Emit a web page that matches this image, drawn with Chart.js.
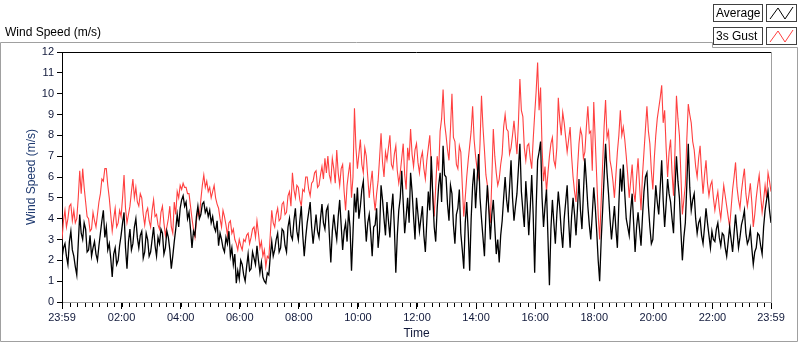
<!DOCTYPE html>
<html><head><meta charset="utf-8">
<script src="https://cdn.jsdelivr.net/npm/chart.js@4.4.1/dist/chart.umd.min.js"></script>
<style>html,body{margin:0;padding:0;background:#fff;}#wrap{position:relative;width:800px;height:342px;}</style>
</head><body><div id="wrap"><canvas id="c" width="800" height="342"></canvas></div>
<script>
const chartTitle = "Wind Speed (m/s)";
const xTitle = "Time";
const yTitle = "Wind Speed (m/s)";
const seriesNames = ["Average", "3s Gust"];
const sampleStepMinutes = 3;
const tickMinutes = [0, 121, 241, 361, 481, 601, 721, 841, 961, 1081, 1201, 1321, 1440];
const tickLabels = ["23:59","02:00","04:00","06:00","08:00","10:00","12:00","14:00","16:00","18:00","20:00","22:00","23:59"];

// one value every 3 minutes, 20 per hour
const average = [
  2.1, 2.6, 2.8, 2.2, 1.8, 2.9, 3.4, 2.5, 2.2, 1.7, 1.3, 2.8, 4.2, 3.3, 3.0, 3.8, 3.5, 2.4, 2.5, 3.2,
  2.2, 2.6, 2.9, 2.3, 2.0, 2.7, 3.3, 3.9, 4.4, 3.1, 3.6, 2.5, 2.8, 2.1, 1.2, 2.3, 2.6, 1.8, 2.0, 2.7,
  3.2, 3.8, 4.3, 2.6, 1.6, 2.9, 3.5, 2.5, 2.8, 3.6, 4.0, 3.1, 2.6, 3.2, 3.4, 2.1, 2.4, 3.3, 3.0, 2.2,
  2.4, 3.0, 3.6, 2.7, 2.2, 3.1, 2.8, 3.5, 3.3, 2.3, 2.6, 3.4, 3.1, 2.5, 1.6, 2.2, 2.9, 3.5, 4.2, 3.6,
  4.5, 4.9, 5.1, 4.6, 4.8, 4.0, 4.3, 3.5, 2.6, 3.4, 3.2, 4.1, 4.6, 4.0, 4.2, 4.7, 4.8, 4.3, 4.5, 4.1,
  4.4, 3.8, 4.1, 3.6, 3.4, 3.9, 2.7, 3.3, 3.0, 2.6, 2.4, 3.1, 2.8, 3.4, 2.2, 2.6, 1.8, 2.3, 0.9, 1.5,
  1.1, 2.0, 1.8, 1.3, 1.0, 1.7, 2.3, 1.5, 1.6, 2.4, 2.1, 1.8, 2.7, 2.0, 1.4, 1.9, 1.2, 1.0, 0.9, 1.4,
  1.3, 2.2, 2.9, 2.2, 2.5, 3.0, 3.3, 2.4, 2.6, 3.5, 3.4, 2.7, 2.4, 3.6, 4.0, 3.2, 3.0, 3.9, 4.5, 3.4,
  3.0, 3.9, 4.6, 3.2, 2.2, 3.1, 3.8, 4.3, 4.8, 3.6, 2.8, 3.5, 4.2, 3.4, 3.1, 4.0, 4.7, 3.8, 3.5, 4.4,
  4.6, 3.2, 1.9, 3.4, 4.2, 3.5, 3.0, 4.1, 4.9, 3.7, 2.5, 3.4, 3.8, 2.9, 4.4, 3.6, 1.5, 3.3, 5.2, 4.3,
  5.5, 4.0, 4.6, 5.4, 5.8, 4.1, 2.9, 3.8, 4.2, 3.3, 2.2, 3.6, 3.7, 4.5, 2.6, 3.4, 5.6, 4.9, 4.0, 3.2,
  4.8, 3.9, 3.1, 4.4, 5.2, 3.6, 1.4, 3.2, 4.4, 5.0, 6.3, 4.8, 3.3, 4.1, 5.0, 3.8, 6.2, 5.3, 4.1, 3.0,
  5.0, 4.2, 3.4, 4.0, 4.6, 3.2, 2.4, 3.9, 5.3, 4.4, 7.0, 5.1, 3.6, 2.9, 4.5, 5.6, 6.2, 4.8, 7.5, 6.1,
  6.0, 4.7, 3.9, 5.6, 5.2, 3.7, 2.8, 4.2, 4.5, 5.4, 3.3, 2.5, 1.6, 3.8, 4.8, 3.4, 1.5, 4.0, 5.6, 6.4,
  4.5, 5.8, 7.1, 5.0, 4.0, 3.1, 2.2, 4.3, 5.6, 4.4, 3.0, 4.2, 4.9, 3.6, 2.3, 3.0, 1.9, 3.2, 3.9, 5.0,
  6.0, 4.9, 4.3, 5.5, 6.8, 5.0, 3.9, 4.6, 5.2, 6.4, 7.6, 5.3, 4.4, 3.6, 5.8, 4.7, 3.2, 4.5, 6.1, 4.2,
  1.4, 4.5, 6.8, 7.2, 7.7, 5.0, 3.6, 4.6, 5.4, 3.1, 0.8, 3.5, 4.9, 3.8, 2.8, 4.2, 5.3, 4.5, 3.4, 2.6,
  4.0, 4.8, 5.6, 3.9, 2.6, 4.1, 5.0, 4.2, 3.2, 4.5, 5.9, 4.4, 3.5, 5.2, 6.9, 5.8, 4.6, 3.7, 3.0, 4.2,
  5.5, 4.6, 3.4, 2.0, 1.0, 2.9, 4.4, 6.0, 7.6, 6.2, 5.2, 4.0, 3.0, 3.8, 4.6, 3.5, 2.6, 4.7, 6.4, 5.3,
  6.6, 5.2, 4.0, 3.6, 3.2, 4.4, 5.2, 3.8, 2.4, 3.6, 4.3, 3.5, 2.7, 4.1, 5.3, 6.0, 6.2, 4.6, 3.6, 2.8,
  3.0, 4.3, 5.6, 4.8, 4.2, 5.5, 6.8, 4.9, 3.6, 4.7, 5.9, 5.2, 4.8, 4.0, 3.3, 5.4, 7.0, 5.8, 5.0, 3.4,
  2.0, 3.1, 3.8, 5.6, 7.6, 5.5, 4.4, 4.9, 5.2, 4.0, 3.3, 3.8, 4.0, 3.2, 2.8, 3.6, 4.5, 3.8, 3.2, 2.6,
  3.4, 3.0, 2.9, 3.5, 3.8, 3.1, 2.7, 3.3, 3.2, 2.6, 2.2, 2.9, 3.6, 3.0, 2.4, 3.3, 4.2, 3.4, 2.6, 3.1,
  3.7, 4.0, 4.4, 3.3, 2.8, 3.0, 3.5, 2.6, 1.8, 2.4, 2.6, 3.3, 3.2, 2.7, 2.3, 3.6, 4.4, 4.9, 5.3, 4.4,
  3.8
];
const gust = [
  3.0, 3.9, 4.4, 3.6, 4.0, 4.6, 4.7, 3.9, 4.4, 3.8, 4.0, 5.0, 6.3, 5.2, 6.4, 5.5, 4.8, 4.1, 4.0, 3.4,
  3.5, 4.3, 3.9, 3.6, 4.2, 4.8, 5.2, 5.9, 5.8, 6.4, 6.4, 5.6, 5.0, 4.2, 3.4, 4.0, 4.5, 3.6, 3.8, 4.4,
  4.1, 5.0, 6.1, 4.5, 3.8, 4.2, 4.6, 5.3, 5.9, 5.0, 5.5, 4.8, 4.6, 5.2, 5.0, 4.2, 3.7, 4.3, 4.5, 3.9,
  3.6, 4.4, 4.9, 4.1, 4.2, 3.7, 3.5, 4.3, 4.6, 3.8, 3.2, 3.6, 4.0, 4.6, 3.6, 3.3, 4.8, 4.2, 5.3, 5.0,
  5.6, 5.4, 5.7, 5.5, 5.5, 5.2, 5.2, 4.6, 4.0, 3.5, 3.1, 3.9, 4.4, 4.1, 4.9, 5.6, 6.1, 5.5, 5.8, 5.3,
  5.5, 5.0, 5.3, 5.6, 5.0, 4.7, 4.5, 4.0, 3.6, 4.4, 4.1, 3.7, 3.2, 3.8, 3.9, 3.3, 3.5, 3.0, 2.8, 2.5,
  3.0, 2.7, 2.5, 3.0, 2.9, 3.2, 3.3, 2.8, 3.1, 3.5, 3.6, 3.1, 3.9, 3.3, 2.6, 2.9, 2.2, 2.5, 1.7, 2.2,
  2.1, 3.2, 4.4, 3.8, 3.6, 4.2, 4.5, 3.9, 4.0, 4.7, 4.8, 4.2, 4.3, 5.1, 5.3, 4.6, 6.2, 5.4, 5.0, 5.6,
  5.5, 4.9, 4.6, 5.4, 5.3, 6.0, 6.0, 5.4, 5.1, 5.7, 5.8, 6.2, 6.3, 5.5, 5.6, 6.1, 6.5, 5.9, 6.9, 6.2,
  7.0, 6.1, 5.8, 6.9, 6.4, 5.7, 7.3, 6.2, 5.6, 6.4, 6.6, 5.3, 4.4, 5.6, 6.2, 6.7, 5.0, 6.0, 9.3, 7.4,
  6.4, 7.1, 7.8, 6.6, 6.2, 7.4, 7.0, 6.0, 5.0, 5.7, 6.3, 5.1, 4.4, 5.2, 5.8, 6.9, 8.1, 6.7, 6.0, 7.2,
  6.8, 7.4, 8.0, 6.6, 6.4, 7.1, 7.5, 6.3, 5.7, 6.2, 6.9, 7.6, 6.1, 5.4, 7.4, 6.8, 8.3, 7.1, 6.5, 7.3,
  7.6, 6.7, 6.2, 6.9, 7.2, 6.4, 5.9, 6.8, 7.4, 8.0, 6.6, 5.2, 4.1, 5.5, 7.0, 6.3, 8.2, 8.8, 10.2, 8.6,
  8.0, 7.3, 6.8, 8.3, 10.0, 7.9, 7.7, 6.6, 6.4, 7.5, 7.2, 5.6, 4.1, 5.0, 6.0, 6.8, 7.5, 8.2, 9.4, 7.8,
  7.0, 6.4, 6.0, 7.6, 9.9, 8.4, 7.3, 6.1, 5.6, 4.5, 3.8, 5.9, 8.3, 7.0, 6.2, 5.6, 5.9, 6.6, 7.1, 8.4,
  9.0, 8.3, 8.2, 7.1, 7.4, 8.0, 8.7, 7.9, 7.1, 8.6, 10.7, 9.2, 8.9, 7.4, 6.8, 7.5, 7.6, 6.9, 6.4, 7.8,
  9.0, 10.1, 11.5, 9.2, 10.3, 7.4, 5.8, 6.5, 5.3, 6.2, 7.0, 7.6, 7.9, 6.8, 6.5, 7.4, 9.8, 8.7, 8.0, 9.1,
  8.6, 7.9, 7.2, 7.8, 8.4, 7.0, 6.0, 5.3, 4.8, 6.4, 7.6, 8.3, 8.0, 6.9, 7.2, 8.4, 9.4, 8.1, 8.2, 6.3,
  9.6, 7.8, 6.0, 4.2, 3.0, 4.8, 6.6, 8.4, 9.7, 7.9, 8.2, 6.8, 6.4, 5.8, 5.0, 6.1, 7.2, 8.0, 9.2, 8.0,
  8.4, 7.8, 7.0, 6.1, 5.0, 5.8, 6.6, 5.3, 4.8, 6.0, 6.9, 5.6, 4.4, 6.1, 7.2, 8.3, 9.4, 8.2, 7.6, 6.3,
  5.4, 6.9, 8.0, 8.8, 9.3, 9.8, 10.4, 8.6, 9.2, 7.4, 6.0, 7.2, 7.8, 6.2, 5.1, 7.3, 9.9, 8.8, 8.0, 6.1,
  4.2, 4.9, 5.6, 7.8, 9.5, 9.0, 8.6, 7.7, 7.3, 6.5, 6.0, 6.9, 7.5, 6.2, 5.2, 6.1, 6.8, 5.7, 5.1, 5.6,
  5.8, 5.0, 4.4, 4.9, 5.3, 4.5, 4.0, 4.8, 5.6, 5.1, 4.6, 4.1, 3.6, 4.5, 5.4, 6.0, 6.7, 5.5, 4.9, 4.5,
  5.3, 5.9, 6.4, 5.2, 4.6, 5.1, 5.7, 4.8, 3.6, 4.2, 5.0, 5.6, 6.1, 5.1, 4.3, 4.9, 5.6, 5.0, 6.2, 5.8,
  5.3
];

const toPoints = arr => arr.map((v, i) => ({x: i * sampleStepMinutes, y: v}));
const FONT = "'Liberation Sans', Arial, sans-serif";

const framePlugin = {
  id: 'frame',
  beforeDraw(chart) {
    const ctx = chart.ctx;
    ctx.save();
    ctx.fillStyle = '#fff';
    ctx.fillRect(0, 0, chart.width, chart.height);
    ctx.strokeStyle = '#a0a0a0';
    ctx.lineWidth = 1;
    ctx.beginPath();
    ctx.moveTo(0.5, 341.5); ctx.lineTo(0.5, 42.5); ctx.lineTo(712.5, 42.5);
    ctx.lineTo(712.5, 47.5); ctx.lineTo(797.5, 47.5); ctx.lineTo(797.5, 341.5); ctx.lineTo(0.5, 341.5);
    ctx.stroke();
    ctx.fillStyle = '#000';
    ctx.font = '12px ' + FONT;
    ctx.textBaseline = 'alphabetic';
    ctx.textAlign = 'left';
    ctx.fillText(chartTitle, 5, 36);
    ctx.restore();
  },
  afterDraw(chart) {
    const ctx = chart.ctx;
    const a = chart.chartArea;
    const xs = chart.scales.x;
    ctx.save();
    ctx.lineWidth = 1;
    ctx.strokeStyle = '#000';
    ctx.beginPath(); ctx.moveTo(a.left, a.top + 0.5); ctx.lineTo(a.right, a.top + 0.5); ctx.stroke();
    ctx.strokeStyle = '#a0a0a0';
    ctx.beginPath(); ctx.moveTo(a.right + 0.5, a.top); ctx.lineTo(a.right + 0.5, a.bottom + 1); ctx.stroke();
    ctx.strokeStyle = '#000';
    ctx.beginPath();
    for (let m = 1; m < 1440; m += 15) {
      const px = Math.round(xs.getPixelForValue(m)) + 0.5;
      ctx.moveTo(px, a.bottom + 1); ctx.lineTo(px, a.bottom + 5);
    }
    ctx.stroke();
    const ds = chart.data.datasets;
    ds.forEach((d, i) => {
      const y0 = 4 + i * 23;
      ctx.fillStyle = '#fff';
      ctx.fillRect(714, y0, 49, 17);
      ctx.strokeStyle = '#404040';
      ctx.strokeRect(713.5, y0 + 0.5, 49, 17);
      ctx.strokeRect(766.5, y0 + 0.5, 30, 17);
      ctx.fillStyle = '#000';
      ctx.font = '12px ' + FONT;
      ctx.textBaseline = 'middle';
      ctx.textAlign = 'left';
      ctx.fillText(d.label, 716, y0 + 9.5);
      ctx.strokeStyle = d.borderColor;
      ctx.beginPath();
      ctx.moveTo(770, y0 + 15); ctx.lineTo(778, y0 + 4); ctx.lineTo(785, y0 + 15); ctx.lineTo(793, y0 + 3);
      ctx.stroke();
    });
    ctx.restore();
  }
};

new Chart(document.getElementById('c'), {
  type: 'line',
  data: {
    datasets: [
      {label: seriesNames[0], data: toPoints(average), borderColor: '#000000', borderWidth: 1.3, pointRadius: 0, tension: 0, fill: false},
      {label: seriesNames[1], data: toPoints(gust), borderColor: '#ff4040', borderWidth: 1.1, pointRadius: 0, tension: 0, fill: false}
    ]
  },
  options: {
    responsive: false,
    animation: false,
    devicePixelRatio: 1,
    layout: {padding: {top: 52, right: 29, bottom: 0, left: 0}},
    plugins: {legend: {display: false}, tooltip: {enabled: false}, title: {display: false}},
    scales: {
      x: {
        type: 'linear', min: 0, max: 1440,
        afterBuildTicks: s => { s.ticks = tickMinutes.map(v => ({value: v})); },
        afterFit: s => { s.height = 40; },
        ticks: {autoSkip: false, maxRotation: 0, padding: 2, color: '#10183a',
          font: {family: FONT, size: 11},
          callback: (v, i) => tickLabels[i]},
        grid: {drawOnChartArea: false, tickLength: 7, color: '#000', lineWidth: 1},
        border: {color: '#a0a0a0'},
        title: {display: true, text: xTitle, color: '#10183a', font: {family: FONT, size: 12}, padding: {top: 0, bottom: 1}}
      },
      y: {
        min: 0, max: 12,
        afterFit: s => { s.width = 62; },
        ticks: {stepSize: 1, padding: 3, color: '#10183a', font: {family: FONT, size: 11}},
        grid: {drawOnChartArea: false, tickLength: 5, color: '#000', lineWidth: 1},
        border: {color: '#000'},
        title: {display: true, text: yTitle, color: '#1f3a70', font: {family: FONT, size: 12}, padding: {top: 24, bottom: 0}}
      }
    }
  },
  plugins: [framePlugin]
});
</script>
</body></html>
